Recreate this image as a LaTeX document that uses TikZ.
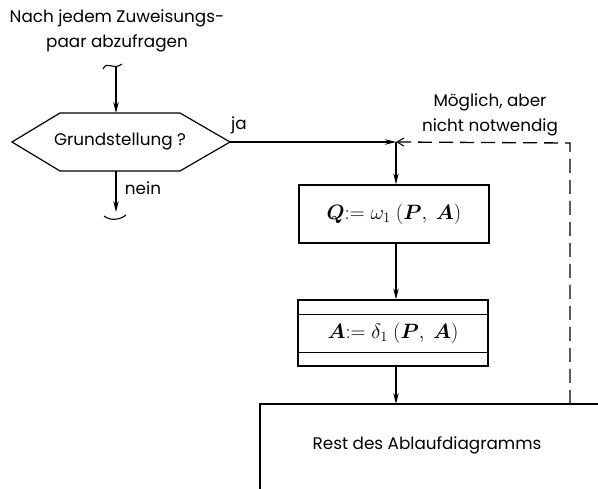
\documentclass[tikz,border=0pt]{standalone}
\usepackage{fontspec}
\setmainfont{Poppins}
\usepackage{bm}
\usetikzlibrary{arrows.meta,calc}
\begin{document}
\begin{tikzpicture}[x=1pt,y=-1pt,
  font=\fontsize{16.8}{25}\selectfont,
  line width=1.1pt,
  >={Stealth[length=11pt,width=5.5pt]},
  box/.style={draw, line width=1.2pt, minimum width=190pt, inner sep=0pt},
  mathtxt/.style={font=\fontsize{19.5}{22}\selectfont},
  opentip/.style={-{Straight Barb[length=7pt,width=8pt,line width=1pt]}}]
\useasboundingbox (0,0) rectangle (598,489);
% top note
\node[align=center, inner sep=0pt] (note) at (117,31) {Nach jedem Zuweisungs-\\paar abzufragen};
\coordinate (tin) at (116,66);
\draw[line width=1.1pt] ($(tin)+(-13,3)$) .. controls ($(tin)+(-9,-6)$) and ($(tin)+(-3,5)$) .. ($(tin)+(6,-2)$);
% hexagon decision
\node[inner sep=0pt] (hex) at (120,142) {Grundstellung ?};
\draw[line width=1.2pt] ($(hex.center)+(-60,-29)$) coordinate (hexNW) -- ($(hex.center)+(60,-29)$)
  -- ($(hex.center)+(110,0)$) coordinate (hexR)
  -- ($(hex.center)+(60,29)$) -- ($(hex.center)+(-60,29)$) coordinate (hexSW)
  -- ($(hex.center)+(-108,0)$) coordinate (hexL) -- cycle;
\draw[->] (tin) -- (tin |- hexNW);
% nein exit
\coordinate (tout) at (116,212);
\draw[->] (tin |- hexSW) -- (tout);
\draw[line width=1.1pt] ($(tout)+(-12,4)$) .. controls ($(tout)+(-6,9)$) and ($(tout)+(4,8)$) .. ($(tout)+(10,3)$);
\node[inner sep=0pt] (nein) at (143,188) {nein};
\node[inner sep=0pt] (ja) at (239,125) {ja};
% junction
\coordinate (J) at (396,142);
\draw[->] (hexR) -- (J);
% Q box
\node[box, minimum height=58pt, mathtxt] (Q) at (394,214) {$\bm{Q}\colon\!= \omega_1\ (\bm{P},\ \bm{A})$};
\draw[->] (J) -- (J |- Q.north);
% A box
\node[box, minimum height=66pt, mathtxt] (A) at (393,333) {$\bm{A}\colon\!= \delta_1\ (\bm{P},\ \bm{A})$};
\draw[line width=1.2pt] ($(A.north west)+(0,15)$) -- ($(A.north east)+(0,15)$);
\draw[line width=1.2pt] ($(A.south west)+(0,-14)$) -- ($(A.south east)+(0,-14)$);
\draw[->] (J |- Q.south) -- (J |- A.north);
% rest box (open)
\coordinate (RTL) at (260,404);
\draw[line width=1.2pt] (260,489) -- (RTL) -- (598,404);
\node[inner sep=0pt] (rest) at (427,445) {Rest des Ablaufdiagramms};
\draw[->] (J |- A.south) -- (J |- RTL);
% dashed feedback
\coordinate (D) at (570,404);
\coordinate (DC) at (570,143);
\draw[line width=1.3pt, dash pattern=on 14pt off 7pt, opentip] (D) -- (DC) -- (J);
\node[align=center, inner sep=0pt] (opt) at (490,115) {Möglich, aber\\nicht notwendig};
\end{tikzpicture}
\end{document}
